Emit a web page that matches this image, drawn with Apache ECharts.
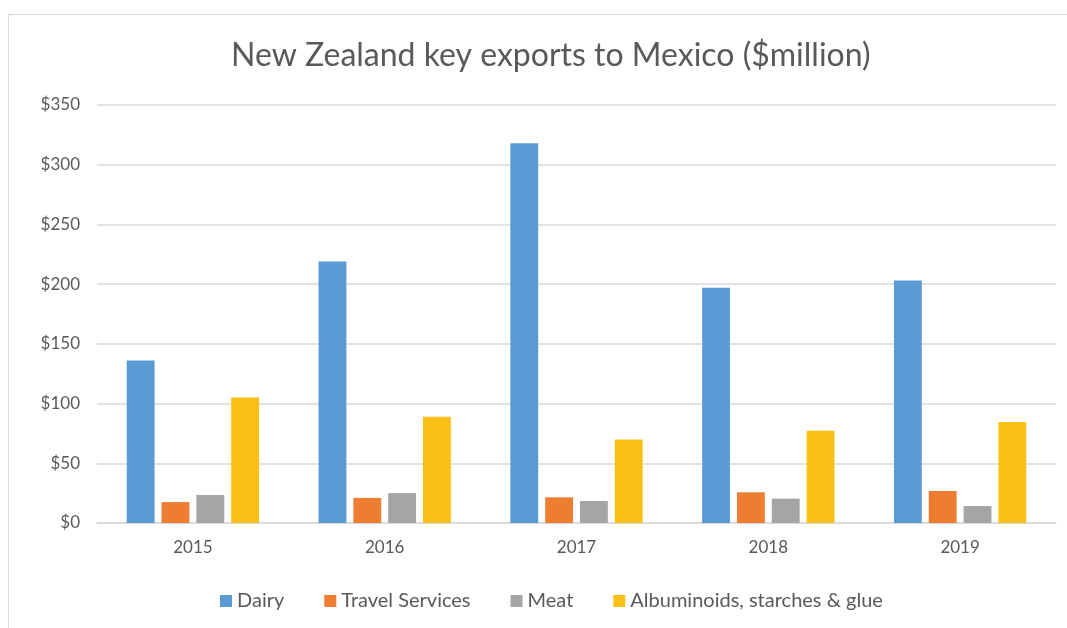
<!DOCTYPE html>
<html><head><meta charset="utf-8">
<script src="https://cdn.jsdelivr.net/npm/echarts@6/dist/echarts.min.js"></script>
<style>html,body{margin:0;padding:0;background:#fff}#c{width:1067px;height:628px}</style>
</head><body><div id="c"></div>
<script>
const years = ['2015','2016','2017','2018','2019'];
const dairy = [136, 219, 318, 197, 203];
const travel = [17.5, 21, 21.5, 25.7, 26.8];
const meat = [23.5, 25, 18.4, 20.4, 14.2];
const albuminoids = [105, 89, 70, 77.3, 84.6];
const seriesNames = ['Dairy','Travel Services','Meat','Albuminoids, starches & glue'];
const colors = ['#5B9BD5','#ED7D31','#A5A5A5','#FBC016'];
const font = 'Lato, "Open Sans", sans-serif';
const chart = echarts.init(document.getElementById('c'), null, {renderer:'canvas'});
const data = [dairy, travel, meat, albuminoids];
chart.setOption({
  animation:false,
  backgroundColor:'#fff',
  graphic:[{type:'rect',shape:{x:8.5,y:14.5,width:1070,height:630},style:{fill:'none',stroke:'#d9d9d9',lineWidth:1}}],
  title:{text:'New Zealand key exports to Mexico ($million)',left:226,top:35,
    textStyle:{fontFamily:font,fontSize:32,fontWeight:'normal',color:'#595959'}},
  legend:{bottom:12,left:215,itemWidth:12,itemHeight:12,itemGap:40,icon:'rect',
    textStyle:{fontFamily:font,fontSize:20,color:'#595959'},data:seriesNames},
  grid:{left:97,right:11,top:105,bottom:105,containLabel:false},
  xAxis:{type:'category',data:years,axisTick:{show:false},
    axisLine:{lineStyle:{color:'#d9d9d9',width:1.5}},
    axisLabel:{fontFamily:font,fontSize:17,color:'#595959',margin:16}},
  yAxis:{type:'value',min:0,max:350,interval:50,
    axisLabel:{fontFamily:font,fontSize:17,color:'#595959',margin:17,formatter:v=>'$'+v},
    splitLine:{lineStyle:{color:'#d9d9d9',width:1.5}},axisLine:{show:false},axisTick:{show:false}},
  series: seriesNames.map((n,i)=>({name:n,type:'bar',data:data[i],barGap:'25%',barCategoryGap:'31%',
    itemStyle:{color:colors[i]}}))
});
</script></body></html>
